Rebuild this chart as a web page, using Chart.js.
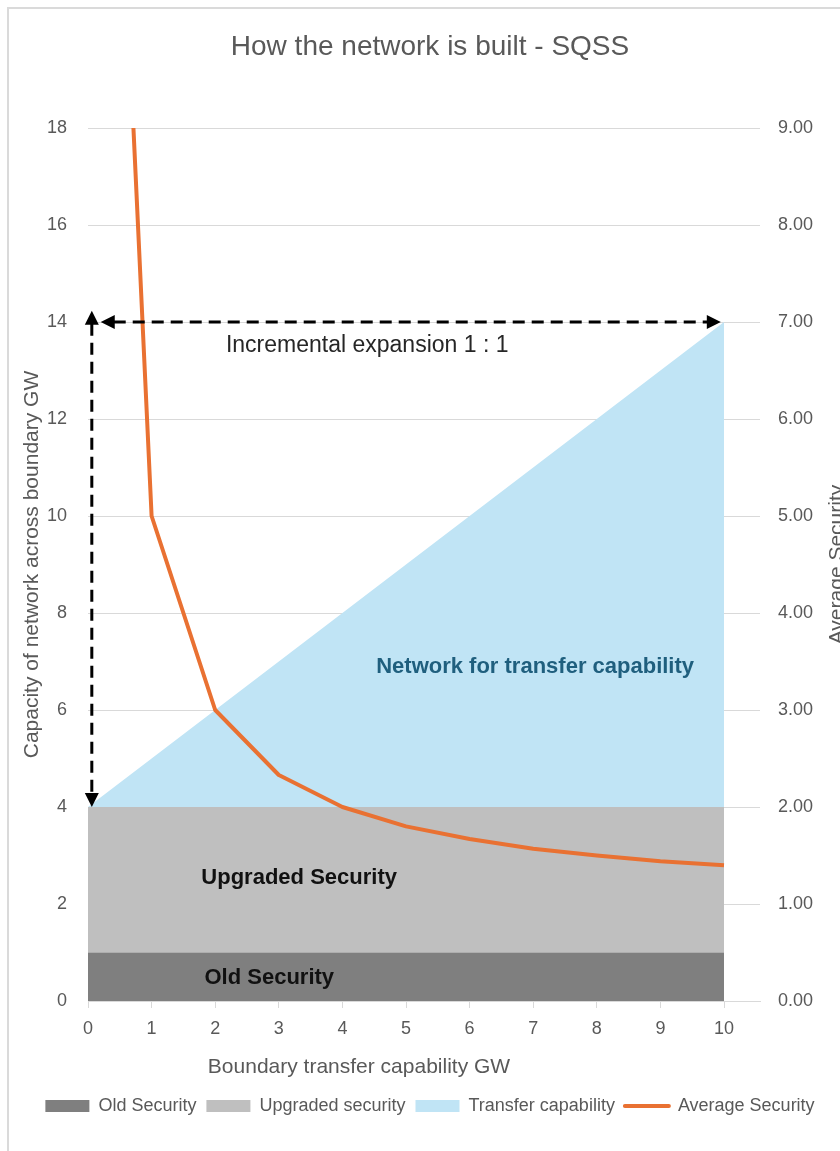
<!DOCTYPE html>
<html>
<head>
<meta charset="utf-8">
<title>How the network is built - SQSS</title>
<script src="https://cdn.jsdelivr.net/npm/chart.js@4/dist/chart.umd.min.js"></script>
<style>
  html, body { margin: 0; padding: 0; background: #ffffff; width: 840px; height: 1151px; overflow: hidden; }
  #frame { position: absolute; left: 7px; top: 7px; width: 900px; height: 1300px; border: 2px solid #dadada; box-sizing: border-box; }
  #chart { position: absolute; left: 0; top: 0; }
</style>
</head>
<body>
<div id="frame"></div>
<canvas id="chart" width="840" height="1151"></canvas>
<script>
// Boundary transfer capability (GW) along the x axis
const capabilityGW = [0, 1, 2, 3, 4, 5, 6, 7, 8, 9, 10];
// Capacity layers across the boundary (GW), stacked bottom to top
const oldSecurity = [1, 1, 1, 1, 1, 1, 1, 1, 1, 1, 1];
const upgradedSecurity = [3, 3, 3, 3, 3, 3, 3, 3, 3, 3, 3];
const transferCapability = [0, 1, 2, 3, 4, 5, 6, 7, 8, 9, 10];
// Average security (right axis)
const averageSecurity = [19, 5, 3, 2.33, 2, 1.8, 1.67, 1.57, 1.5, 1.44, 1.4];

// Tick values
const xTickValues = [0, 1, 2, 3, 4, 5, 6, 7, 8, 9, 10];
const capacityTicks = [0, 2, 4, 6, 8, 10, 12, 14, 16, 18];
const securityTicks = [0, 1, 2, 3, 4, 5, 6, 7, 8, 9];

// Legend / series names
const seriesNames = ['Old Security', 'Upgraded security', 'Transfer capability', 'Average Security'];

const FONT = '"Liberation Sans", Arial, Helvetica, sans-serif';
const GREY_TEXT = '#595959';
const GRID = '#d9d9d9';

// cumulative tops of the stacked capacity layers
const oldTop = oldSecurity.slice();
const upgradedTop = upgradedSecurity.map((v, i) => v + oldTop[i]);
const transferTop = transferCapability.map((v, i) => v + upgradedTop[i]);

const toPoints = ys => capabilityGW.map((x, i) => ({ x: x, y: ys[i] }));

// Dashed double-headed arrows (in data units of x / left y)
const arrowAcross = { y: 14, from: 0.2, to: 9.95 };
const arrowUp = { x: 0.06, from: 4.0, to: 14.23 };

// Text notes placed in data units of x / left y
const notes = [
  { text: 'Incremental expansion 1 : 1', x: 4.39, y: 13.52, font: '23px ' + FONT, color: '#262626' },
  { text: 'Network for transfer capability', x: 7.03, y: 6.89, font: 'bold 22px ' + FONT, color: '#1f5f7e' },
  { text: 'Upgraded Security', x: 3.32, y: 2.54, font: 'bold 22px ' + FONT, color: '#111111' },
  { text: 'Old Security', x: 2.85, y: 0.47, font: 'bold 22px ' + FONT, color: '#111111' }
];

function drawHead(ctx, tipX, tipY, dx, dy) {
  const len = 14, half = 7;
  const bx = tipX - dx * len, by = tipY - dy * len;
  ctx.beginPath();
  ctx.moveTo(tipX, tipY);
  ctx.lineTo(bx - dy * half, by + dx * half);
  ctx.lineTo(bx + dy * half, by - dx * half);
  ctx.closePath();
  ctx.fill();
}

const annotations = {
  id: 'annotations',
  afterDatasetsDraw(chart) {
    const { ctx, scales: { x, y } } = chart;
    ctx.save();
    ctx.strokeStyle = '#000000';
    ctx.fillStyle = '#000000';
    ctx.lineWidth = 3;
    ctx.setLineDash([12, 7]);

    // across arrow
    const hy = y.getPixelForValue(arrowAcross.y);
    const hx0 = x.getPixelForValue(arrowAcross.from);
    const hx1 = x.getPixelForValue(arrowAcross.to);
    ctx.beginPath();
    ctx.moveTo(hx0 + 13, hy);
    ctx.lineTo(hx1 - 13, hy);
    ctx.stroke();

    // upward arrow
    const vx = x.getPixelForValue(arrowUp.x);
    const vy0 = y.getPixelForValue(arrowUp.from);
    const vy1 = y.getPixelForValue(arrowUp.to);
    ctx.beginPath();
    ctx.moveTo(vx, vy1 + 13);
    ctx.lineTo(vx, vy0 - 13);
    ctx.stroke();

    ctx.setLineDash([]);
    drawHead(ctx, hx0, hy, -1, 0);
    drawHead(ctx, hx1, hy, 1, 0);
    drawHead(ctx, vx, vy1, 0, -1);
    drawHead(ctx, vx, vy0, 0, 1);

    ctx.textAlign = 'center';
    ctx.textBaseline = 'middle';
    notes.forEach(n => {
      ctx.font = n.font;
      ctx.fillStyle = n.color;
      ctx.fillText(n.text, x.getPixelForValue(n.x), y.getPixelForValue(n.y));
    });
    ctx.restore();
  },
  afterDraw(chart) {
    const { ctx, chartArea } = chart;
    ctx.save();
    ctx.fillStyle = GREY_TEXT;
    ctx.textAlign = 'center';
    ctx.textBaseline = 'middle';
    ctx.font = '21px ' + FONT;
    // x axis title
    ctx.fillText('Boundary transfer capability GW', chartArea.left + 271, chartArea.bottom + 66);
    // right axis title, reading bottom to top
    ctx.translate(chartArea.right + 77, (chartArea.top + chartArea.bottom) / 2);
    ctx.rotate(-Math.PI / 2);
    ctx.fillText('Average Security', 0, 0);
    ctx.restore();
  }
};

const areaBase = { borderWidth: 0, pointRadius: 0, pointHoverRadius: 0, tension: 0, yAxisID: 'y', order: 1 };

new Chart(document.getElementById('chart'), {
  type: 'line',
  data: {
    datasets: [
      Object.assign({}, areaBase, {
        label: seriesNames[0], data: toPoints(oldTop),
        backgroundColor: '#7f7f7f', borderColor: '#7f7f7f', fill: 'origin'
      }),
      Object.assign({}, areaBase, {
        label: seriesNames[1], data: toPoints(upgradedTop),
        backgroundColor: '#bfbfbf', borderColor: '#bfbfbf', fill: '-1'
      }),
      Object.assign({}, areaBase, {
        label: seriesNames[2], data: toPoints(transferTop),
        backgroundColor: '#c0e4f5', borderColor: '#c0e4f5', fill: '-1'
      }),
      {
        label: seriesNames[3], data: toPoints(averageSecurity),
        yAxisID: 'y1', order: 0, fill: false,
        borderColor: '#e97132', backgroundColor: '#e97132', borderWidth: 4,
        borderJoinStyle: 'round', pointRadius: 0, pointHoverRadius: 0, tension: 0
      }
    ]
  },
  options: {
    responsive: false,
    animation: false,
    devicePixelRatio: 1,
    layout: { padding: { left: 20, right: 0, top: 0, bottom: 26 } },
    plugins: {
      title: {
        display: true,
        text: 'How the network is built - SQSS',
        color: GREY_TEXT,
        font: { family: FONT, size: 28, weight: 'normal' },
        padding: { top: 30, bottom: 64.4 }
      },
      legend: {
        position: 'bottom',
        labels: {
          usePointStyle: true,
          pointStyleWidth: 44,
          boxHeight: 12,
          padding: 10,
          color: GREY_TEXT,
          font: { family: FONT, size: 18 },
          generateLabels(chart) {
            return chart.data.datasets.map((ds, i) => {
              const isLine = ds.yAxisID === 'y1';
              return {
                text: ds.label,
                datasetIndex: i,
                fillStyle: ds.backgroundColor,
                strokeStyle: ds.borderColor,
                lineWidth: isLine ? 4 : 0,
                lineCap: 'round',
                pointStyle: isLine ? 'line' : 'rect',
                fontColor: GREY_TEXT,
                hidden: false
              };
            });
          }
        }
      },
      tooltip: { enabled: false }
    },
    scales: {
      x: {
        type: 'linear',
        min: 0,
        max: 10.566,
        afterBuildTicks(scale) { scale.ticks = xTickValues.map(v => ({ value: v })); },
        grid: { drawOnChartArea: false, drawTicks: true, tickLength: 7, color: GRID, lineWidth: 1 },
        border: { display: true, color: GRID, width: 1 },
        ticks: { color: GREY_TEXT, font: { family: FONT, size: 18 }, padding: 10, maxRotation: 0, autoSkip: false },
        afterFit(scale) { scale.height = 86; }
      },
      y: {
        position: 'left',
        min: 0,
        max: 18,
        afterBuildTicks(scale) { scale.ticks = capacityTicks.map(v => ({ value: v })); },
        grid: { color: GRID, lineWidth: 1, drawTicks: false },
        border: { display: false },
        ticks: { color: GREY_TEXT, font: { family: FONT, size: 18 }, padding: 21 },
        title: {
          display: true,
          text: 'Capacity of network across boundary GW',
          color: GREY_TEXT,
          font: { family: FONT, size: 21 },
          padding: { top: 0, bottom: 0 }
        },
        afterFit(scale) { scale.width = 68; }
      },
      y1: {
        position: 'right',
        min: 0,
        max: 9,
        afterBuildTicks(scale) { scale.ticks = securityTicks.map(v => ({ value: v })); },
        grid: { display: false },
        border: { display: false },
        ticks: {
          color: GREY_TEXT, font: { family: FONT, size: 18 }, padding: 10,
          callback: v => Number(v).toFixed(2)
        },
        afterFit(scale) { scale.width = 80; }
      }
    }
  },
  plugins: [annotations]
});
</script>
</body>
</html>
